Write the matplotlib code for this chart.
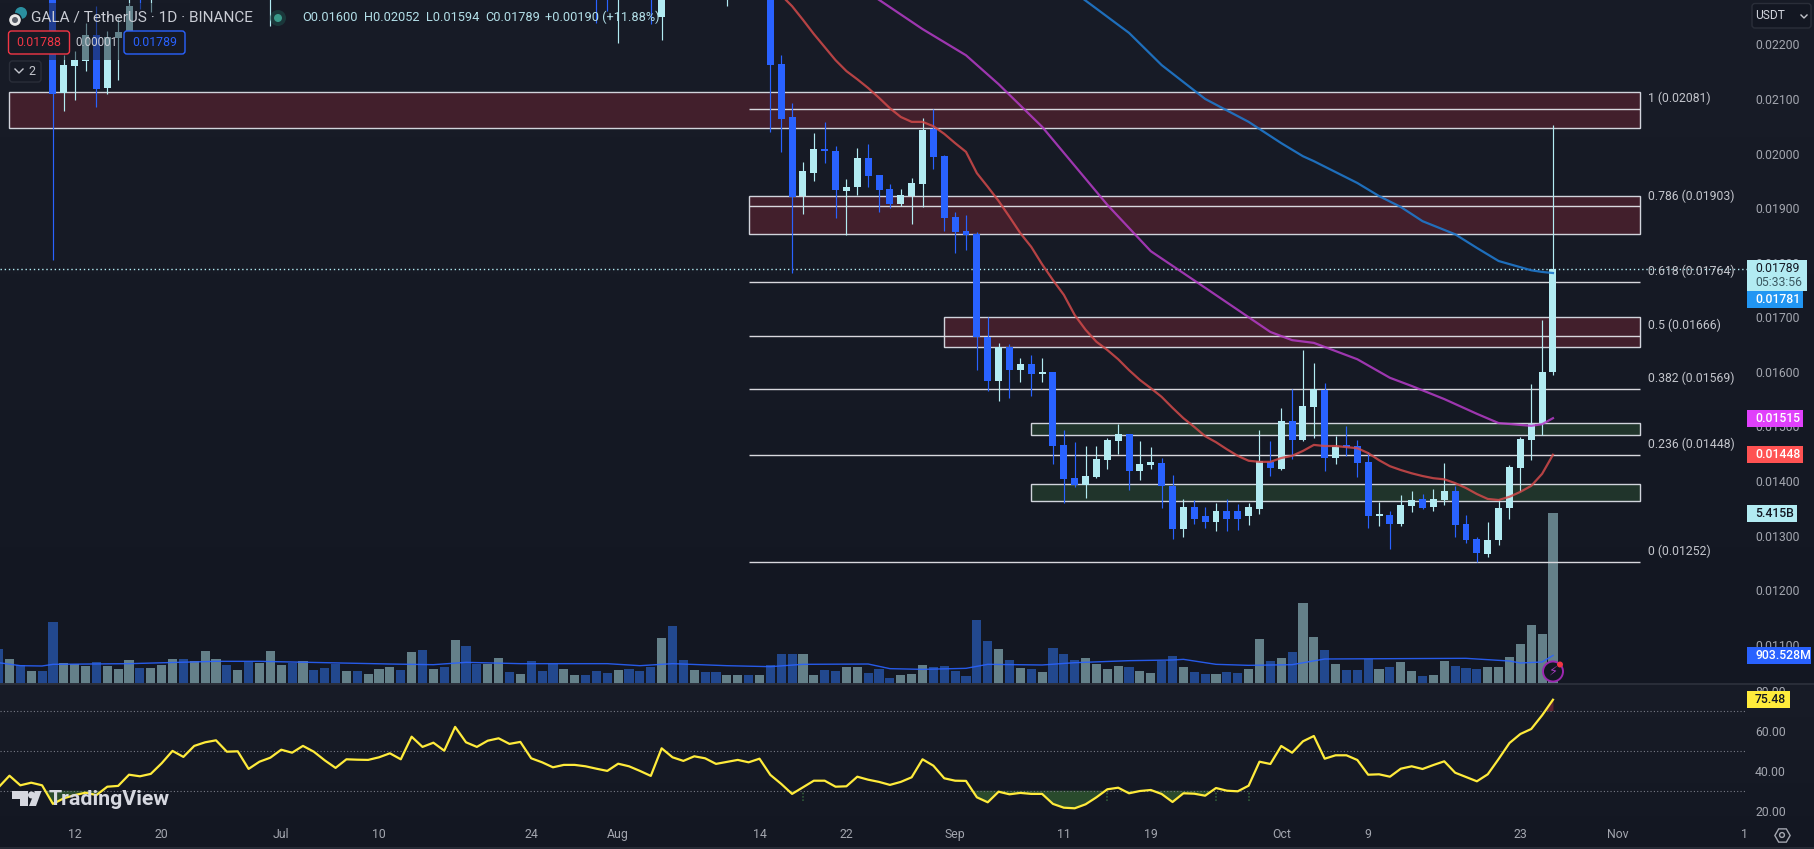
import numpy as np
import matplotlib
matplotlib.use('Agg')
import matplotlib.pyplot as plt
from matplotlib.patches import Rectangle, FancyBboxPatch, Polygon, Circle
from matplotlib.lines import Line2D
from matplotlib.transforms import IdentityTransform

plt.rcParams['font.family'] = ['Roboto', 'DejaVu Sans']

# bar index 0 is Jun 5, last bar (143) is Oct 26
# prices are in 1e-5 USDT
bar_idx = [5, 6, 7, 8, 9, 10, 11, 12, 13, 14, 25, 55, 56, 57, 60, 61, 67] + list(range(71, 144))
opens = [2300, 2111, 2160, 2169, 2217, 2120, 2212, 2222, 2300, 2285, 2300, 2310, 2300, 2290, 2310, 2251, 2295,
         2295, 2164, 2067, 1923, 1964, 2009, 2005, 1931, 1939, 1992, 1961, 1935, 1908, 1923, 1944, 2045, 1996, 1884, 1858,
         1853, 1664, 1583, 1645, 1603, 1614, 1596, 1600, 1466, 1405, 1393, 1407, 1438, 1473, 1486, 1418, 1429, 1433, 1391,
         1312, 1352, 1335, 1325, 1345, 1345, 1335, 1349, 1435, 1422, 1510, 1475, 1536, 1567, 1442, 1464, 1464, 1435, 1336,
         1338, 1321, 1354, 1367, 1352, 1365, 1382, 1321, 1294, 1266, 1292, 1350, 1424, 1475, 1504, 1600]
highs = [2310, 2180, 2188, 2240, 2270, 2225, 2250, 2290, 2310, 2320, 2340, 2330, 2320, 2330, 2330, 2310, 2320,
         2310, 2180, 2093, 1984, 2038, 2058, 2014, 1953, 2010, 2017, 1961, 1944, 1935, 1955, 2065, 2082, 1997, 1893, 1887,
         1856, 1700, 1653, 1651, 1625, 1631, 1625, 1600, 1493, 1471, 1464, 1464, 1479, 1504, 1486, 1473, 1462, 1442, 1411,
         1367, 1365, 1352, 1360, 1367, 1358, 1360, 1493, 1473, 1534, 1568, 1640, 1616, 1579, 1482, 1501, 1475, 1453, 1362,
         1345, 1374, 1382, 1376, 1385, 1433, 1391, 1338, 1297, 1325, 1365, 1429, 1481, 1578, 1695, 2052]
lows = [1805, 2078, 2098, 2151, 2085, 2109, 2135, 2210, 2265, 2260, 2234, 2240, 2262, 2202, 2238, 2208, 2270,
        2040, 2002, 1781, 1889, 1950, 1983, 1882, 1851, 1924, 1939, 1893, 1900, 1904, 1871, 1902, 1972, 1858, 1818, 1823,
        1603, 1565, 1546, 1552, 1581, 1556, 1581, 1431, 1360, 1389, 1369, 1405, 1422, 1449, 1383, 1402, 1422, 1350, 1294,
        1297, 1321, 1314, 1308, 1308, 1310, 1320, 1340, 1409, 1420, 1440, 1473, 1479, 1418, 1431, 1446, 1407, 1314, 1317,
        1275, 1317, 1343, 1349, 1345, 1356, 1297, 1286, 1252, 1261, 1283, 1330, 1382, 1438, 1484, 1594]
closes = [2109, 2162, 2171, 2217, 2118, 2213, 2222, 2270, 2285, 2310, 2320, 2295, 2290, 2310, 2295, 2295, 2310,
          2162, 2063, 1920, 1968, 2008, 2005, 1933, 1939, 1992, 1959, 1933, 1908, 1924, 1946, 2043, 1994, 1882, 1856, 1851,
          1664, 1583, 1645, 1603, 1614, 1596, 1600, 1464, 1404, 1393, 1409, 1440, 1475, 1486, 1418, 1431, 1435, 1391, 1312,
          1352, 1330, 1325, 1345, 1330, 1330, 1352, 1436, 1424, 1510, 1475, 1537, 1568, 1442, 1462, 1462, 1433, 1336, 1339,
          1321, 1356, 1365, 1350, 1367, 1382, 1319, 1292, 1268, 1292, 1350, 1426, 1477, 1504, 1600, 1789]

# volume in millions, u / d marks up and down days
volumes = [1108, 792, 602, 412, 412, 1963, 665, 633, 570, 697,
           570, 475, 760, 507, 507, 602, 792, 792, 728, 1045,
           792, 602, 443, 697, 665, 1045, 602, 665, 728, 443,
           507, 633, 412, 412, 317, 475, 538, 443, 1013, 1077,
           475, 538, 1393, 1203, 633, 633, 823, 380, 317, 728,
           412, 633, 475, 285, 285, 412, 348, 443, 475, 412,
           538, 1457, 1837, 760, 443, 380, 380, 285, 285, 285,
           285, 602, 950, 950, 950, 285, 443, 412, 538, 538,
           348, 475, 190, 285, 317, 602, 538, 570, 412, 253,
           2027, 1362, 1108, 760, 507, 475, 380, 1140, 950, 760,
           823, 633, 475, 570, 538, 412, 348, 728, 887, 538,
           380, 317, 317, 380, 348, 475, 1425, 728, 823, 1013,
           2565, 1488, 1077, 633, 443, 443, 792, 475, 538, 697,
           412, 253, 285, 728, 570, 507, 475, 538, 538, 855,
           1267, 1868, 1583, 5415]
vol_dirs = ['d', 'u', 'd', 'u', 'd', 'd', 'u', 'u', 'u', 'd',
            'u', 'u', 'u', 'd', 'u', 'u', 'u', 'd', 'u', 'u',
            'u', 'd', 'u', 'd', 'u', 'u', 'u', 'd', 'u', 'd',
            'd', 'd', 'u', 'd', 'u', 'u', 'u', 'd', 'u', 'd',
            'u', 'd', 'u', 'd', 'd', 'u', 'u', 'd', 'u', 'd',
            'd', 'd', 'u', 'u', 'd', 'd', 'd', 'u', 'd', 'd',
            'd', 'u', 'd', 'd', 'u', 'd', 'd', 'u', 'u', 'd',
            'u', 'd', 'd', 'd', 'u', 'u', 'd', 'd', 'u', 'u',
            'd', 'd', 'd', 'u', 'u', 'u', 'd', 'd', 'd', 'd',
            'd', 'd', 'u', 'd', 'u', 'd', 'u', 'd', 'd', 'd',
            'u', 'u', 'u', 'u', 'd', 'u', 'u', 'd', 'd', 'u',
            'd', 'd', 'u', 'd', 'd', 'u', 'u', 'd', 'u', 'd',
            'u', 'u', 'd', 'u', 'd', 'd', 'd', 'u', 'd', 'u',
            'u', 'd', 'u', 'u', 'd', 'd', 'd', 'u', 'u', 'u',
            'u', 'u', 'u', 'u']
vol_ma_idx = [0, 2, 4, 5, 12, 20, 24, 36, 40, 43, 48, 56, 59, 62, 67, 71, 74, 80, 82, 85, 89, 91, 96, 99, 104, 108, 109,
              112, 115, 119, 122, 135, 139, 140, 142, 143]
vol_ma = [675, 580, 570, 623, 644, 718, 718, 633, 612, 686, 644, 644, 580, 644, 580, 549, 623, 633, 486, 464, 496, 623,
          602, 675, 739, 760, 781, 623, 591, 612, 792, 813, 728, 665, 697, 903.528]

# moving averages on the price pane
ema_red_idx = list(range(72, 144))
ema_red = [2290, 2270, 2245, 2219, 2195, 2171, 2151, 2136, 2120, 2102, 2083, 2067, 2058, 2058, 2050, 2036, 2019, 2003,
           1964, 1939, 1913, 1884, 1854, 1829, 1797, 1768, 1741, 1704, 1677, 1655, 1640, 1623, 1603, 1585, 1570, 1554,
           1534, 1515, 1499, 1482, 1471, 1458, 1446, 1437, 1435, 1435, 1442, 1446, 1455, 1466, 1464, 1464, 1462, 1460,
           1451, 1438, 1427, 1420, 1414, 1409, 1405, 1403, 1396, 1387, 1376, 1367, 1365, 1371, 1380, 1391, 1413, 1448]
ema_purple_idx = [80, 85, 89, 92, 96, 102, 106, 111, 115, 117, 119, 121, 125, 128, 130, 133, 136, 138, 141, 142, 143]
ema_purple = [2295, 2228, 2180, 2127, 2049, 1906, 1821, 1754, 1700, 1673, 1658, 1653, 1623, 1589, 1574, 1550, 1523,
              1506, 1501, 1504, 1515]
ema_blue_idx = [99, 104, 107, 111, 115, 118, 120, 121, 125, 127, 129, 131, 134, 136, 138, 141, 142, 143]
ema_blue = [2295, 2221, 2162, 2100, 2058, 2019, 1995, 1986, 1946, 1922, 1902, 1876, 1852, 1827, 1803, 1786, 1783, 1781]

# rsi, one value per bar
rsi = [31.7, 37.5, 32.7, 34.0, 32.7, 23.4, 26.2, 27.8, 29.0, 27.8,
       32.0, 32.4, 38.0, 37.2, 38.4, 43.7, 49.9, 46.9, 52.4, 54.2,
       55.2, 49.5, 49.7, 40.9, 44.5, 46.5, 50.5, 49.0, 52.4, 49.5,
       45.2, 41.4, 45.7, 45.5, 45.4, 46.7, 48.7, 45.7, 57.0, 51.9,
       54.0, 50.0, 61.9, 54.2, 51.9, 55.0, 56.2, 53.4, 54.4, 46.2,
       44.2, 41.7, 42.9, 42.9, 42.2, 41.0, 39.9, 43.5, 42.2, 39.9,
       37.4, 51.2, 46.7, 44.9, 47.2, 46.2, 43.4, 44.4, 45.4, 44.2,
       46.0, 37.9, 33.4, 28.4, 31.7, 35.0, 35.0, 32.0, 32.2, 37.0,
       35.5, 34.4, 32.9, 34.4, 36.7, 45.7, 42.5, 36.2, 35.0, 34.9,
       26.7, 24.2, 29.5, 28.2, 28.9, 28.4, 28.4, 23.4, 21.5, 21.2,
       23.2, 26.7, 30.7, 31.5, 28.7, 29.85, 30.35, 28.35, 24.35, 28.7,
       28.5, 27.5, 31.35, 30.0, 29.7, 32.5, 44.5, 43.35, 52.35, 49.0,
       54.7, 57.35, 46.0, 47.7, 47.7, 45.35, 38.0, 38.2, 37.0, 41.0,
       42.2, 40.85, 42.85, 44.7, 39.0, 36.85, 34.7, 38.2, 45.85, 53.85,
       58.35, 60.85, 67.7, 75.48]
rsi_cross_idx = [74, 102, 112, 115]

# zones: (first bar, last bar, top, bottom)
red_zones = [(1, 151, 2112, 2046), (69, 151, 1923, 1852), (87, 151, 1700, 1645)]
green_zones = [(95, 151, 1506, 1484), (95, 151, 1394, 1363)]
fib_levels = [1, 0.786, 0.618, 0.5, 0.382, 0.236, 0]
fib_prices = [2081, 1903, 1764, 1666, 1569, 1448, 1252]
fib_start = 69
fib_end = 151

date_ticks = [7, 15, 26, 35, 49, 57, 70, 78, 88, 98, 106, 118, 126, 140, 149, 160.6]
date_labels = ['12', '20', 'Jul', '10', '24', 'Aug', '14', '22', 'Sep', '11', '19', 'Oct', '9', '23', 'Nov', '1']
price_ticks = [2200, 2100, 2000, 1900, 1800, 1700, 1600, 1500, 1400, 1300, 1200, 1100]
rsi_ticks = [20, 40, 60, 80]

W, H = 1814, 849
UP = '#b2ebf2'
DOWN = '#2962ff'
VOL_UP = '#648089'
VOL_DOWN = '#22488e'
GRID_TXT = '#a3a6af'
LINE_TXT = '#c3c5cc'
scale = 1e-5

fig = plt.figure(figsize=(W / 100, H / 100), dpi=100, facecolor='#161a25')

# faint vertical gradient behind each pane
ax_bg = fig.add_axes([0, 0, 1, 1], zorder=-1)
ax_bg.axis('off')
top = np.array([0x18, 0x1c, 0x27]) / 255
bottom = np.array([0x13, 0x17, 0x22]) / 255
ramp = np.concatenate([np.linspace(0, 1, 684), np.linspace(0, 1, 165)])[:, None, None]
ax_bg.imshow(top + (bottom - top) * ramp, aspect='auto', extent=(0, 1, 0, 1))


def pane(y0, y1):
    ax = fig.add_axes([0, 1 - y1 / H, 1747 / W, (y1 - y0) / H])
    ax.patch.set_visible(False)
    for s in ax.spines.values():
        s.set_visible(False)
    ax.set_xlim(0.13, 160.85)
    return ax


# volume pane sits under the candles
ax_vol = pane(0, 684)
ax_vol.set_zorder(1)
ax_vol.set_ylim(0, 21662)
ax_vol.set_xticks([])
ax_vol.set_yticks([])
vol_colors = [VOL_UP if d == 'u' else VOL_DOWN for d in vol_dirs]
ax_vol.bar(range(len(volumes)), volumes, width=0.84, color=vol_colors, linewidth=0)
ax_vol.plot(vol_ma_idx, vol_ma, color='#2962ff', lw=1, alpha=0.9)

ax = pane(0, 684)
ax.set_zorder(2)
ax.set_ylim(0.010279, 0.022813)
ax.set_xticks([])
ax.yaxis.tick_right()
ax.set_yticks(np.array(price_ticks) * scale)
ax.set_yticklabels(['%.5f' % (p * scale) for p in price_ticks])
ax.tick_params(axis='y', length=0, pad=5.8, labelsize=8.8, labelcolor=GRID_TXT)

for x0, x1, hi, lo in red_zones:
    ax.add_patch(Rectangle((x0, lo * scale), x1 - x0, (hi - lo) * scale, facecolor='#421f2c',
                           edgecolor='#d1d4dc', lw=1, zorder=1))
for x0, x1, hi, lo in green_zones:
    ax.add_patch(Rectangle((x0, lo * scale), x1 - x0, (hi - lo) * scale, facecolor='#20342b',
                           edgecolor='#d1d4dc', lw=1, zorder=1))
for lvl, p in zip(fib_levels, fib_prices):
    ax.hlines(p * scale, fib_start, fib_end, color='#d8d8de', lw=1, zorder=2)
    ax.annotate('%g (%.5f)' % (lvl, p * scale), (fib_end, p * scale), xytext=(5.8, 7.6),
                textcoords='offset points', va='center', ha='left', color=LINE_TXT, fontsize=8.8)

ax.axhline(closes[-1] * scale, color=UP, lw=1, ls=(0, (1, 2)), zorder=2.5)

# candles
o = np.array(opens) * scale
h = np.array(highs) * scale
l = np.array(lows) * scale
c = np.array(closes) * scale
cols = [UP if cc >= oo else DOWN for oo, cc in zip(o, c)]
ax.vlines(bar_idx, l, h, colors=cols, lw=0.85, zorder=3)
ax.bar(bar_idx, np.maximum(np.abs(c - o), 3e-5), bottom=np.minimum(o, c), width=0.64, color=cols,
       linewidth=0, zorder=3.1)

ax.plot(ema_red_idx, np.array(ema_red) * scale, color='#d24a4a', lw=1.6, alpha=0.85, zorder=4)
ax.plot(ema_purple_idx, np.array(ema_purple) * scale, color='#b63cc8', lw=1.6, alpha=0.85, zorder=4)
ax.plot(ema_blue_idx, np.array(ema_blue) * scale, color='#1f78cc', lw=1.6, alpha=0.9, zorder=4)

# rsi pane
ax_rsi = pane(684, 822)
ax_rsi.set_zorder(2)
ax_rsi.set_ylim(14.35, 83.35)
rsi_x = np.arange(len(rsi))
rsi_v = np.array(rsi)
ax_rsi.fill_between(rsi_x, rsi_v, 30, where=rsi_v < 30, interpolate=True, color='#294a2c', lw=0)
ax_rsi.fill_between(rsi_x, rsi_v, 70, where=rsi_v > 70, interpolate=True, color='#5a2230', lw=0)
for lvl in [30, 50, 70]:
    ax_rsi.axhline(lvl, color='#787b86', lw=0.8, ls=(0, (1, 2)))
ax_rsi.vlines(rsi_cross_idx, 25, 30, color='#2f5a38', lw=1.2, ls=(0, (1, 1)))
ax_rsi.plot(rsi_x, rsi_v, color='#ffeb3b', lw=1.6)
ax_rsi.yaxis.tick_right()
ax_rsi.set_yticks(rsi_ticks)
ax_rsi.set_yticklabels(['%.2f' % v for v in rsi_ticks])
ax_rsi.set_xticks(date_ticks)
ax_rsi.set_xticklabels(date_labels)
ax_rsi.tick_params(axis='y', length=0, pad=5.8, labelsize=8.8, labelcolor=GRID_TXT)
ax_rsi.tick_params(axis='x', length=0, pad=4.3, labelsize=8.8, labelcolor=GRID_TXT)

# overlay pieces in pixel coordinates, y measured from the top
IDENT = IdentityTransform()


def ptext(x, y, s, color=LINE_TXT, size=12, **kw):
    kw.setdefault('va', 'center')
    kw.setdefault('ha', 'left')
    fig.text(x, H - y, s, color=color, fontsize=size * 0.72, transform=IDENT, zorder=8, **kw)


def prect(x0, y0, x1, y1, **kw):
    fig.add_artist(Rectangle((x0, H - y1), x1 - x0, y1 - y0, transform=IDENT, linewidth=0, zorder=7, **kw))


def pbox(x0, y0, x1, y1, edge, face='#161a25', r=3):
    fig.add_artist(FancyBboxPatch((x0, H - y1), x1 - x0, y1 - y0, boxstyle='round,pad=0,rounding_size=%d' % r,
                                  transform=IDENT, edgecolor=edge, facecolor=face, lw=1, zorder=7))


def pline(xs, ys, color, lw=1.0, **kw):
    fig.add_artist(Line2D(xs, [H - y for y in ys], color=color, lw=lw, transform=IDENT, zorder=7, **kw))


def pcircle(x, y, r, **kw):
    fig.add_artist(Circle((x, H - y), r, transform=IDENT, zorder=7, **kw))


def tag(axis, value, x1, face, text, color, shift=0):
    yc = H - axis.transData.transform((0, value))[1] + shift
    prect(1747, yc - 8.5, x1, yc + 8.5, facecolor=face)
    ptext(1755, yc, text, color=color, size=12.2, fontweight='medium')


# pane separator and bottom edge
pline([0, W], [684, 684], '#2a2e39', 1.4)
pline([0, W], [847.5, 847.5], '#2a2e39', 1.2)

# legend block at top left dims the candles behind it
prect(0, 3, 190, 60, facecolor='#161a25', alpha=0.5)
pcircle(21, 13, 6, facecolor='#2a8fa0')
pcircle(15, 20, 6.5, facecolor='#e8e8e8', edgecolor='#161a25', lw=1)
pcircle(15, 20, 3, facecolor='#5a5f6a')
ptext(31, 17.5, 'GALA / TetherUS \u00b7 1D \u00b7 BINANCE', color='#c9ccd4', size=15.4)
pcircle(278, 18, 8, facecolor='#1d4a48', alpha=0.6)
pcircle(278, 18, 4, facecolor='#3a9a8a')
for x, s in [(302, 'O0.01600'), (364, 'H0.02052'), (426, 'L0.01594'), (485, 'C0.01789'), (545, '+0.00190 (+11.88%)')]:
    ptext(x, 17.5, s, color='#b2dfe8', size=12.8)
pbox(8.5, 31, 69.5, 54, '#f23645')
ptext(39, 43, '0.01788', color='#f23645', size=12.4, ha='center')
ptext(96, 43, '0.00001', color='#c9ccd4', size=11.6, ha='center')
pbox(124, 31, 185, 54, '#2962ff')
ptext(154.5, 43, '0.01789', color='#2962ff', size=12.4, ha='center')
pbox(9.5, 61, 41, 82, '#2a2e39')
pline([15, 19, 23], [69, 73, 69], '#c3c5cc', 1)
ptext(28, 71.5, '2', color='#c3c5cc', size=12.5)

# currency button and price side tags
pbox(1752, 3.5, 1811, 28, '#2a2e39', face='#131722')
ptext(1755, 15.5, 'USDT', color='#d1d4dc', size=12)
pline([1801, 1804, 1807], [15, 18, 15], '#c3c5cc', 1)

yc_last = H - ax.transData.transform((0, closes[-1] * scale))[1]
prect(1747, yc_last - 8.7, 1807, yc_last + 22.3, facecolor=UP)
ptext(1755, yc_last, '0.01789', color='#131722', size=12.2)
ptext(1755, yc_last + 14, '05:33:56', color='#3c5a62', size=12.2)
tag(ax, ema_blue[-1] * scale, 1803, '#2196f3', '0.01781', 'white', shift=26)
tag(ax, ema_purple[-1] * scale, 1803, '#e040fb', '0.01515', 'white')
tag(ax, ema_red[-1] * scale, 1803, '#ff5252', '0.01448', 'white')
tag(ax_vol, volumes[-1], 1797, UP, '5.415B', '#131722')
tag(ax_vol, vol_ma[-1], 1811, '#2962ff', '903.528M', 'white')
tag(ax_rsi, rsi[-1], 1790, '#ffeb3b', '75.48', '#131722')

# lightning badge on the last bar
pcircle(1553, 671.5, 10, facecolor='#131722', edgecolor='#9c27b0', lw=1.4)
ptext(1553, 671.5, '\u26a1', color='#a53cc0', size=13, ha='center', family='DejaVu Sans')
pcircle(1560, 664.5, 3, facecolor='#f23645')

# TradingView mark
logo = '#d6d8e0'
fig.add_artist(Polygon([(12, H - 791), (28, H - 791), (28, H - 806), (20, H - 806), (20, H - 799), (12, H - 799)],
                       closed=True, transform=IDENT, facecolor=logo, linewidth=0, zorder=7))
pcircle(31.5, 795, 3.5, facecolor=logo)
fig.add_artist(Polygon([(35, H - 791), (41.5, H - 791), (36, H - 806), (29, H - 806)],
                       closed=True, transform=IDENT, facecolor=logo, linewidth=0, zorder=7))
ptext(49, 799.5, 'TradingView', color=logo, size=21.4, fontweight='bold')

# settings gear
pline([1782], [835], '#a3a6af', 1, marker='H', ms=11, mfc='none', mew=1)
pcircle(1782, 835, 2.4, facecolor='none', edgecolor='#a3a6af', lw=1)

fig.savefig('out.png', dpi=100, facecolor=fig.get_facecolor())
